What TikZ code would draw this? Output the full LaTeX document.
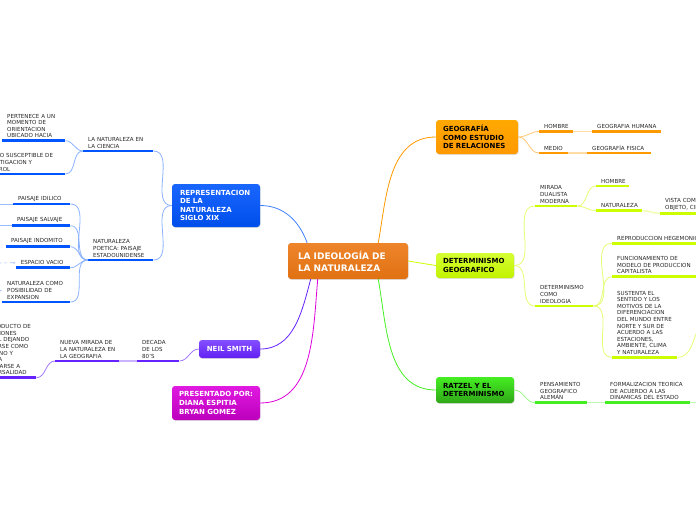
\documentclass[tikz,border=0pt]{standalone}
\usepackage{fontspec}
\setmainfont{DejaVu Sans}
\usetikzlibrary{arrows.meta,positioning,shadows}
\definecolor{cmain}{HTML}{EC7713}
\definecolor{cgeo}{HTML}{FF9900}
\definecolor{cdet}{HTML}{CCFF00}
\definecolor{crat}{HTML}{44EE22}
\definecolor{crep}{HTML}{0055FF}
\definecolor{cneil}{HTML}{6622FF}
\definecolor{cpres}{HTML}{DD00DD}
\tikzset{
  shad/.style={drop shadow={opacity=0.25, shadow xshift=0.6pt, shadow yshift=-0.9pt}},
  root/.style={rounded corners=3pt, top color=cmain!90!white, bottom color=cmain!95!black, text=white, align=left,
    font=\bfseries\fontsize{9}{11.8}\selectfont, inner xsep=10pt, inner ysep=2pt, text width=100pt, minimum height=36pt, shad},
  topic/.style={rounded corners=3pt, align=left, font=\bfseries\fontsize{7}{8.6}\selectfont, inner ysep=2pt, shad},
  sub/.style={anchor=south west, align=left, inner xsep=5pt, inner ysep=2.6pt, text=black!85,
    font=\fontsize{5.55}{6.6}\selectfont, execute at begin node={\hyphenpenalty=10000\exhyphenpenalty=10000}},
  ubar/.style={line width=2.6pt, draw=#1},
  link/.style={line width=0.8pt, draw=#1},
  chain/.style={line width=1.3pt, draw=#1!35},
  rel/.style={draw=crep!35, line width=0.7pt, -{Stealth[length=2.5pt]}},
}
\begin{document}
\begin{tikzpicture}[x=1pt,y=1pt]
\useasboundingbox (0,0) rectangle (696,-520);
% centre and main topics
\node[root] (root) at (348,-261) {LA~IDEOLOGÍA~DE\\LA~NATURALEZA};
\node[topic, top color=cgeo!85!yellow, bottom color=cgeo, text width=68pt, inner xsep=7pt, minimum height=34pt] (geo) at (477,-137) {GEOGRAFÍA\\COMO~ESTUDIO\\DE~RELACIONES};
\node[topic, top color=cdet!80!white, bottom color=cdet!95!black, text width=64pt, inner xsep=7pt, minimum height=25pt] (dgeo) at (475,-265.5) {DETERMINISMO\\GEOGRAFICO};
\node[topic, top color=crat, bottom color=crat!70!black, text width=64pt, inner xsep=7pt, minimum height=26pt] (ratz) at (475,-390) {RATZEL~Y~EL\\DETERMINISMO};
\node[topic, top color=crep!90!white, bottom color=crep!92!black, text=white, text width=72pt, inner xsep=8pt, minimum height=43pt] (repr) at (216,-205.5) {REPRESENTACION\\DE~LA\\NATURALEZA\\SIGLO~XIX};
\node[topic, top color=cneil!80!white, bottom color=cneil!95!black, text=white, text width=49pt, inner xsep=6pt, minimum height=18pt, align=center] (neil) at (229.5,-349) {NEIL~SMITH};
\node[topic, top color=cpres!90!white, bottom color=cpres!85!black, text=white, text width=74pt, inner xsep=7pt, minimum height=34pt] (present) at (216,-403) {PRESENTADO~POR:\\DIANA~ESPITIA\\BRYAN~GOMEZ};

% geografia
\node[sub, text width=24pt] (ohom) at (539,-131.5) {HOMBRE};
\node[sub, text width=59pt] (ohum) at (592,-131.5) {GEOGRAFIA~HUMANA};
\node[sub, text width=19pt] (omed) at (539,-153) {MEDIO};
\node[sub, text width=54pt] (ofis) at (587,-153) {GEOGRAFÍA~FISICA};
% determinismo geografico
\node[sub, text width=32pt] (ymir) at (535,-206) {MIRADA\\DUALISTA\\MODERNA};
\node[sub, text width=23pt] (yhom) at (596,-186) {HOMBRE};
\node[sub, text width=36pt] (ynat) at (596,-210.7) {NATURALEZA};
\node[sub, text width=70pt] (yvis) at (660,-213.3) {VISTA~COMO\\OBJETO,~CIENCIA};
\node[sub, text width=48pt] (yide) at (535,-306) {DETERMINISMO\\COMO\\IDEOLOGIA};
\node[sub, text width=138pt] (yrep) at (612,-243.3) {REPRODUCCION~HEGEMONICA};
\node[sub, text width=118pt] (yfun) at (612,-276.7) {FUNCIONAMIENTO~DE\\MODELO~DE~PRODUCCION\\CAPITALISTA};
\node[sub, text width=55pt] (ysus) at (612,-357.3) {SUSTENTA~EL\\SENTIDO~Y~LOS\\MOTIVOS~DE~LA\\DIFERENCIACION\\DEL~MUNDO~ENTRE\\NORTE~Y~SUR~DE\\ACUERDO~A~LAS\\ESTACIONES,\\AMBIENTE,~CLIMA\\Y~NATURALEZA};
% ratzel
\node[sub, text width=42pt] (gpen) at (535,-402.7) {PENSAMIENTO\\GEOGRAFICO\\ALEMÁN};
\node[sub, text width=75pt] (gfor) at (605,-402.7) {FORMALIZACION~TEORICA\\DE~ACUERDO~A~LAS\\DINAMICAS~DEL~ESTADO};
% representacion
\node[sub, text width=60pt] (bcie) at (83,-151) {LA~NATURALEZA~EN\\LA~CIENCIA};
\node[sub, text width=53pt] (bper) at (2,-140.7) {PERTENECE~A~UN\\MOMENTO~DE\\ORIENTACION\\UBICADO~HACIA};
\node[sub, text width=77pt] (bobj) at (-22,-174) {OBJETO~SUSCEPTIBLE~DE\\INVESTIGACION~Y\\CONTROL};
\node[sub, text width=55pt] (bpoe) at (88,-260) {NATURALEZA\\POETICA:~PAISAJE\\ESTADOUNIDENSE};
\node[sub, text width=47pt] (bidi) at (13,-204) {PAISAJE~IDILICO};
\node[sub, text width=48pt] (bsal) at (12,-225.7) {PAISAJE~SALVAJE};
\node[sub, text width=54pt] (bind) at (6,-246.7) {PAISAJE~INDOMITO};
\node[sub, text width=44.3pt] (besp) at (15.7,-267.7) {ESPACIO~VACIO};
\node[sub, text width=58pt] (bexp) at (2,-302) {NATURALEZA~COMO\\POSIBILIDAD~DE\\EXPANSION};
% neil smith
\node[sub, text width=32pt] (pdec) at (137,-361) {DECADA\\DE~LOS\\80'S};
\node[sub, text width=54pt] (pnue) at (55,-361) {NUEVA~MIRADA~DE\\LA~NATURALEZA~EN\\LA~GEOGRAFIA};
\node[sub, text width=50pt] (puni) at (-24,-377.7) {EL~PRODUCTO~DE\\RELACIONES\\SOCIAL~DEJANDO\\DE~VERSE~COMO\\EXTERNO~Y\\LOGICA\\ACERCARSE~A\\UNIVERSALIDAD};

\foreach \n/\c in {ohom/cgeo, ohum/cgeo, omed/cgeo, ofis/cgeo,
  ymir/cdet, yhom/cdet, ynat/cdet, yvis/cdet, yide/cdet, yrep/cdet, yfun/cdet, ysus/cdet,
  gpen/crat, gfor/crat,
  bcie/crep, bper/crep, bobj/crep, bpoe/crep, bidi/crep, bsal/crep, bind/crep, besp/crep, bexp/crep,
  pdec/cneil, pnue/cneil, puni/cneil}
  \draw[ubar=\c] (\n.south west) -- (\n.south east);

% centre links
\draw[link=cgeo] (root.31) to[out=80,in=180] (geo.west);
\draw[link=cdet] (root.east) -- (dgeo.west);
\draw[link=crat] (root.-31) to[out=-80,in=180] (ratz.west);
\draw[link=crep!75] (root.156) to[out=110,in=0] (repr.east);
\draw[link=cneil] (root.206) to[out=-105,in=0] (neil.east);
\draw[link=cpres] (root.211) to[out=-95,in=0] (present.east);

% right side
\foreach \a/\b/\c in {geo.east/ohom.south west/cgeo, geo.east/omed.south west/cgeo,
  dgeo.east/ymir.south west/cdet, dgeo.east/yide.south west/cdet,
  ymir.south east/yhom.south west/cdet, ymir.south east/ynat.south west/cdet,
  yide.south east/yrep.south west/cdet, yide.south east/yfun.south west/cdet, yide.south east/ysus.south west/cdet,
  ratz.east/gpen.south west/crat}
  \draw[link=\c!55] (\a) to[out=0,in=180] (\b);
\foreach \a/\b/\c in {ohom/ohum/cgeo, omed/ofis/cgeo, ynat/yvis/cdet, gpen/gfor/crat, pnue/pdec/cneil}
  \draw[chain=\c] (\a.south east) to[out=0,in=180] (\b.south west);
\coordinate (ysusx) at (712,-318);
\coordinate (gforx) at (712,-402.7);
\draw[link=cdet!55] (ysus.south east) to[out=0,in=180] (ysusx);
\draw[chain=crat] (gfor.south east) -- (gforx);

% left side
\foreach \a/\b in {repr.west/bcie.south east, repr.west/bpoe.south east,
  bcie.south west/bper.south east, bcie.south west/bobj.south east,
  bpoe.south west/bidi.south east, bpoe.south west/bsal.south east, bpoe.south west/bind.south east,
  bpoe.south west/besp.south east, bpoe.south west/bexp.south east}
  \draw[link=crep!45] (\a) to[out=180,in=0] (\b);
\coordinate (bidix) at (-12,-204);
\coordinate (bsalx) at (-12,-225.7);
\coordinate (bespx) at (-14,-263);
\coordinate (bexpx) at (-8,-291);
\draw[link=crep!40] (bidi.south west) -- (bidix);
\draw[link=crep!40] (bsal.south west) -- (bsalx);
\draw[rel, dashed] (bespx) -- (besp.west);
\draw[rel] (bexpx) -- (bexp.west);
\draw[link=cneil!60] (neil.west) to[out=180,in=0] (pdec.south east);
\draw[link=cneil!60] (pnue.south west) to[out=180,in=0] (puni.south east);
\end{tikzpicture}
\end{document}
